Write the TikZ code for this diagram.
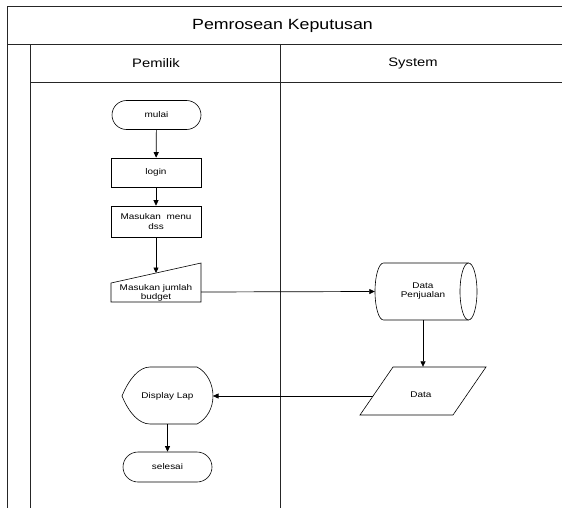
\documentclass[tikz,border=0pt]{standalone}
\usepackage{fontspec}
\setmainfont[FakeStretch=1.2]{Liberation Sans}
\usetikzlibrary{shapes.misc,arrows.meta}
\begin{document}
\begin{tikzpicture}[x=1pt,y=-1pt,
  lane/.style={line width=0.9pt,draw=black!85},
  box/.style={draw,line width=0.6pt,font=\fontsize{8.3}{9.5}\selectfont,align=center,inner sep=1pt},
  term/.style={box,rounded rectangle,minimum width=91pt,minimum height=29pt},
  proc/.style={box,rectangle,minimum width=90pt},
  ghost/.style={draw=none,inner sep=0pt},
  lbl/.style={font=\fontsize{8.3}{9.5}\selectfont,align=center,inner sep=0pt},
  flow/.style={line width=0.7pt,-{Triangle[length=5.5pt,width=5pt]}},
  shp/.style={line width=0.6pt}]
\useasboundingbox (0,0) rectangle (562,508);
% swimlane frame
\draw[lane] (7,508) -- (7,6) -- (562,6);
\draw[lane] (7,44) -- (562,44);
\draw[lane] (30,508) -- (30,44);
\draw[lane] (30,82) -- (562,82);
\draw[lane] (280,44) -- (280,508);
\node[lbl,font=\fontsize{14.8}{16}\selectfont] (title) at (282.5,26) {Pemrosean Keputusan};
\node[lbl,font=\fontsize{12.3}{14}\selectfont] (lane1) at (156,63) {Pemilik};
\node[lbl,font=\fontsize{12.3}{14}\selectfont] (lane2) at (413,63) {System};
% nodes
\node[term] (mulai) at (156.5,115) {mulai};
\node[proc,minimum height=29pt] (login) at (156,172.5) {login};
\node[proc,minimum height=31pt] (menu) at (156,221.5) {Masukan~ menu\\dss};
% manual input
\node[ghost,minimum width=90pt,minimum height=39pt] (budget) at (156,282.5) {};
\draw[shp] (111,283) -- (201,263) -- (201,302) -- (111,302) -- cycle;
\node[lbl] (budgettext) at (156,293) {Masukan jumlah\\budget};
\coordinate (budgettop) at (156,273);
\coordinate (budgetR) at (201,292);
% data store (cylinder)
\node[ghost,minimum width=102pt,minimum height=57pt] (dp) at (426,291.5) {};
\draw[shp] (468.5,263) arc[start angle=-90,end angle=270,x radius=8.5,y radius=28.5];
\draw[shp] (468.5,263) -- (383.5,263) arc[start angle=270,end angle=90,x radius=8.5,y radius=28.5] -- (468.5,320);
\node[lbl] (dptext) at (423,291) {Data\\Penjualan};
% data (parallelogram)
\node[ghost,minimum width=126pt,minimum height=48pt] (data) at (423,391) {};
\draw[shp] (393,367) -- (486,367) -- (453,415) -- (360,415) -- cycle;
\node[lbl] (datatext) at (421,395) {Data};
\coordinate (dataL) at (373,396);
% display
\node[ghost,minimum width=91pt,minimum height=57pt] (disp) at (167.5,395.5) {};
\draw[shp] (122,396) .. controls (129,379) and (139,367) .. (150,367) -- (197,367)
  .. controls (207,372) and (213,384) .. (213,396)
  .. controls (213,408) and (207,419) .. (197,424) -- (150,424)
  .. controls (139,424) and (129,413) .. (122,396) -- cycle;
\node[lbl] (disptext) at (167.5,396) {Display Lap};
\coordinate (dispR) at (213,396);
\node[term,minimum height=30pt] (selesai) at (167.5,467) {selesai};
% connectors
\draw[flow] (mulai) -- (login);
\draw[flow] (login) -- (menu);
\draw[flow] (menu) -- (budgettop);
\draw[flow] (budgetR) -- (dp.west);
\draw[flow] (data.north |- dp.south) -- (data.north);
\draw[flow] (dataL) -- (dispR);
\draw[flow] (disp.south) -- (selesai);
\end{tikzpicture}
\end{document}
